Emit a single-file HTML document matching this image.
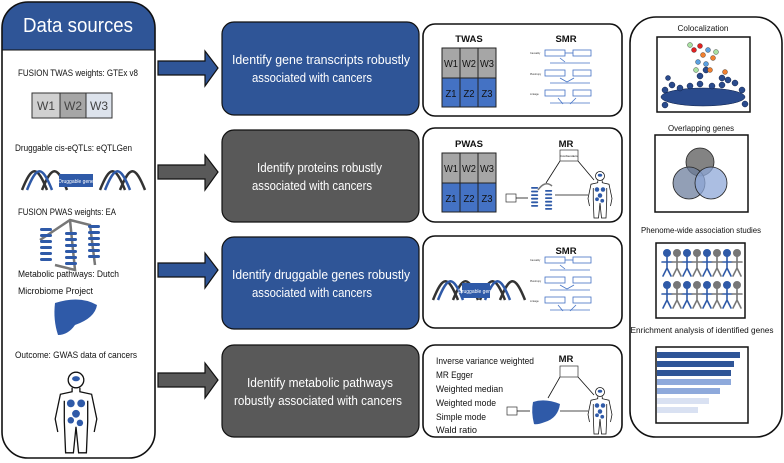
<!DOCTYPE html>
<html><head><meta charset="utf-8"><style>
html,body{margin:0;padding:0;background:#fff;}
svg{display:block;font-family:"Liberation Sans",sans-serif;}
</style></head><body>
<svg width="784" height="463" viewBox="0 0 784 463" xmlns="http://www.w3.org/2000/svg">
<defs>
  <g id="smr">
    <g font-size="2.5" fill="#333">
      <text x="0" y="4">Causality</text><text x="0" y="25">Pleiotropy</text><text x="0" y="45">Linkage</text>
    </g>
    <g fill="none" stroke="#4472c4" stroke-width="0.8">
      <rect x="15" y="0" width="20" height="6"/><rect x="43" y="0" width="18" height="6"/>
      <line x1="35" y1="3" x2="43" y2="3"/>
      <line x1="20" y1="13" x2="60" y2="13"/><line x1="30" y1="8" x2="35" y2="12"/>
      <rect x="15" y="20" width="20" height="6"/><rect x="43" y="20" width="18" height="6"/>
      <line x1="20" y1="33" x2="60" y2="33"/><line x1="30" y1="28" x2="37" y2="32"/><line x1="44" y1="28" x2="37" y2="32"/>
      <rect x="15" y="40" width="20" height="6"/><rect x="43" y="40" width="18" height="6"/>
      <line x1="20" y1="53" x2="60" y2="53"/><line x1="28" y1="48" x2="33" y2="54"/><line x1="46" y1="48" x2="40" y2="54"/>
    </g>
  </g>
  <g id="grid">
    <rect x="0" y="0" width="54" height="30" fill="#a6a6a6" stroke="#222" stroke-width="1"/>
    <rect x="0" y="30" width="54" height="29" fill="#4472c4" stroke="#222" stroke-width="1"/>
    <line x1="18" y1="0" x2="18" y2="59" stroke="#222"/><line x1="36" y1="0" x2="36" y2="59" stroke="#222"/>
    <g font-size="10" fill="#111" text-anchor="middle">
      <text x="9" y="19" textLength="14" lengthAdjust="spacingAndGlyphs">W1</text><text x="27" y="19" textLength="14" lengthAdjust="spacingAndGlyphs">W2</text><text x="45" y="19" textLength="14" lengthAdjust="spacingAndGlyphs">W3</text>
      <text x="9" y="49" textLength="11" lengthAdjust="spacingAndGlyphs">Z1</text><text x="27" y="49" textLength="11" lengthAdjust="spacingAndGlyphs">Z2</text><text x="45" y="49" textLength="11" lengthAdjust="spacingAndGlyphs">Z3</text>
    </g>
  </g>
  <g id="human" fill="none" stroke="#111" stroke-width="1">
    <circle cx="0" cy="0" r="6"/>
    <path d="M-3,6 L-3,9 L-12,11 L-16,30 L-14,40 M3,6 L3,9 L12,11 L16,30 L14,40 M-9,16 L-9,32 L-8,56 L-2,56 L0,36 L2,56 L8,56 L9,32 L9,16"/>
    <g fill="#2f5aa8" stroke="none"><ellipse cx="0" cy="-1" rx="3" ry="2"/><circle cx="-4" cy="18" r="3"/><circle cx="4" cy="18" r="3"/><circle cx="0" cy="26" r="3"/><circle cx="-4" cy="31" r="2.5"/><circle cx="3" cy="33" r="2.5"/></g>
  </g>
  <g id="dna">
    <path d="M0,20 C10,-5 15,-5 25,20 M20,20 C30,-5 35,-5 45,20" stroke="#333" stroke-width="2.5" fill="none"/>
    <path d="M5,20 C15,-5 20,-5 30,20" stroke="#2f5aa8" stroke-width="2.5" fill="none"/>
  </g>
  <g id="coil" fill="#2f5aa8"><rect x="0" y="0" width="12" height="3" rx="1.5"/><rect x="0" y="6" width="12" height="3" rx="1.5"/><rect x="0" y="12" width="12" height="3" rx="1.5"/><rect x="0" y="18" width="12" height="3" rx="1.5"/><rect x="0" y="24" width="12" height="3" rx="1.5"/><rect x="0" y="30" width="12" height="3" rx="1.5"/></g>
  <g id="person"><circle cx="0" cy="-6" r="3.5"/><path d="M0,-2 V9 M-5,3 H5 M0,9 L-4,17 M0,9 L4,17" fill="none" stroke-width="1.6"/></g>
</defs>

<!-- Left panel -->
<path d="M2,50 V30 Q2,2 30,2 H127 Q155,2 155,30 V50 Z" fill="#2f5597"/>
<rect x="2" y="2" width="153" height="456" rx="26" fill="none" stroke="#111" stroke-width="1.6"/>
<line x1="2" y1="50" x2="155" y2="50" stroke="#111" stroke-width="1"/>
<text x="78" y="32" font-size="20" fill="#fff" text-anchor="middle" textLength="110" lengthAdjust="spacingAndGlyphs">Data sources</text>
<g font-size="9" fill="#111">
  <text x="18" y="76" textLength="120" lengthAdjust="spacingAndGlyphs">FUSION TWAS weights: GTEx v8</text>
  <text x="15" y="151" textLength="117" lengthAdjust="spacingAndGlyphs">Druggable cis-eQTLs: eQTLGen</text>
  <text x="18" y="215" textLength="98" lengthAdjust="spacingAndGlyphs">FUSION PWAS weights: EA</text>
  <text x="18" y="277" textLength="101" lengthAdjust="spacingAndGlyphs">Metabolic pathways: Dutch</text>
  <text x="18" y="294" textLength="75" lengthAdjust="spacingAndGlyphs">Microbiome Project</text>
  <text x="15" y="358" textLength="122" lengthAdjust="spacingAndGlyphs">Outcome: GWAS data of cancers</text>
</g>
<rect x="32" y="93" width="28" height="25" fill="#d0d0d0" stroke="#333"/>
<rect x="60" y="93" width="26" height="25" fill="#a6a6a6" stroke="#333"/>
<rect x="86" y="93" width="26" height="25" fill="#dde3ec" stroke="#333"/>
<g font-size="12" fill="#444" text-anchor="middle"><text x="46" y="110">W1</text><text x="73" y="110">W2</text><text x="99" y="110">W3</text></g>
<use href="#dna" x="22" y="170"/>
<use href="#dna" x="100" y="170"/>
<rect x="59" y="174" width="34" height="13" fill="#2f5aa8"/>
<text x="76" y="183" font-size="5" fill="#fff" text-anchor="middle">Druggable gene</text>
<path d="M40,240 L70,220 L90,225 L95,265 M70,220 L75,270 L55,265" fill="none" stroke="#777" stroke-width="2.5"/>
<use href="#coil" x="40" y="228"/><use href="#coil" x="65" y="232"/><use href="#coil" x="88" y="225"/>
<path d="M55,303 Q80,295 97,305 Q95,318 75,325 Q68,335 58,335 Q53,320 55,303 Z" fill="#2f5aa8"/>
<g transform="translate(76,380) scale(1.3)"><use href="#human"/></g>

<!-- Arrows -->
<g stroke="#111" stroke-width="1.2">
  <path d="M158,61 H205 V51 L218,68 L205,86 V75 H158 Z" fill="#2f5597"/>
  <path d="M158,165 H205 V155 L218,172 L205,190 V179 H158 Z" fill="#595959"/>
  <path d="M158,263 H205 V253 L218,270 L205,288 V277 H158 Z" fill="#2f5597"/>
  <path d="M158,373 H205 V363 L218,380 L205,398 V387 H158 Z" fill="#595959"/>
</g>

<!-- Middle boxes -->
<g stroke="#111" stroke-width="1.2">
  <rect x="222" y="22" width="197" height="93" rx="12" fill="#2f5597"/>
  <rect x="222" y="130" width="197" height="92" rx="12" fill="#595959"/>
  <rect x="222" y="237" width="197" height="92" rx="12" fill="#2f5597"/>
  <rect x="222" y="345" width="197" height="92" rx="12" fill="#595959"/>
</g>
<g font-size="12.5" fill="#fff">
  <text x="232" y="64" textLength="178" lengthAdjust="spacingAndGlyphs">Identify gene transcripts robustly</text><text x="252" y="82" textLength="120" lengthAdjust="spacingAndGlyphs">associated with cancers</text>
  <text x="257" y="172" textLength="125" lengthAdjust="spacingAndGlyphs">Identify proteins robustly</text><text x="252" y="190" textLength="120" lengthAdjust="spacingAndGlyphs">associated with cancers</text>
  <text x="232" y="279" textLength="178" lengthAdjust="spacingAndGlyphs">Identify druggable genes robustly</text><text x="252" y="297" textLength="120" lengthAdjust="spacingAndGlyphs">associated with cancers</text>
  <text x="247" y="387" textLength="146" lengthAdjust="spacingAndGlyphs">Identify metabolic pathways</text><text x="234" y="405" textLength="168" lengthAdjust="spacingAndGlyphs">robustly associated with cancers</text>
</g>

<!-- Diagram boxes -->
<g fill="#fff" stroke="#111" stroke-width="1.6">
  <rect x="423" y="24" width="199" height="92" rx="12"/>
  <rect x="423" y="128" width="199" height="94" rx="12"/>
  <rect x="423" y="236" width="199" height="92" rx="12"/>
  <rect x="423" y="345" width="199" height="92" rx="12"/>
</g>
<g font-size="9.5" fill="#111" text-anchor="middle" font-weight="bold">
  <text x="469" y="42">TWAS</text><text x="566" y="42">SMR</text>
  <text x="469" y="147">PWAS</text><text x="566" y="147">MR</text>
  <text x="566" y="254">SMR</text>
  <text x="566" y="362">MR</text>
</g>
<use href="#grid" x="442" y="48"/>
<use href="#smr" x="530" y="50"/>
<use href="#grid" x="442" y="153"/>
<use href="#smr" x="530" y="257"/>
<use href="#dna" x="433" y="280"/><use href="#dna" x="480" y="280"/>
<rect x="462" y="283" width="28" height="15" fill="#2f5aa8"/>
<text x="476" y="293" font-size="5" fill="#fff" text-anchor="middle">Druggable gene</text>
<!-- PWAS MR -->
<rect x="506" y="194" width="10" height="8" fill="#fff" stroke="#333" stroke-width="0.7"/>
<rect x="560" y="150" width="18" height="11" fill="#fff" stroke="#333" stroke-width="0.7"/>
<text x="569" y="157" font-size="3" text-anchor="middle">Confounders</text>
<g stroke="#111" stroke-width="0.8" fill="none"><line x1="516" y1="198" x2="528" y2="198"/><line x1="546" y1="183" x2="560" y2="161"/><line x1="578" y1="161" x2="594" y2="180"/><line x1="555" y1="195" x2="588" y2="195"/></g>
<g transform="translate(531,187) scale(0.6)"><use href="#coil"/></g>
<g transform="translate(545,190) scale(0.6)"><use href="#coil"/></g>
<path d="M538,190 Q545,180 552,186" fill="none" stroke="#777" stroke-width="1.5"/>
<g transform="translate(600,176) scale(0.75)"><use href="#human"/></g>
<!-- Metabolic MR -->
<g font-size="9.3" fill="#111">
  <text x="436" y="364" textLength="98" lengthAdjust="spacingAndGlyphs">Inverse variance weighted</text>
  <text x="436" y="378" textLength="37" lengthAdjust="spacingAndGlyphs">MR Egger</text>
  <text x="436" y="392" textLength="67" lengthAdjust="spacingAndGlyphs">Weighted median</text>
  <text x="436" y="406" textLength="60" lengthAdjust="spacingAndGlyphs">Weighted mode</text>
  <text x="436" y="420" textLength="50" lengthAdjust="spacingAndGlyphs">Simple mode</text>
  <text x="436" y="433" textLength="41" lengthAdjust="spacingAndGlyphs">Wald ratio</text>
</g>
<rect x="507" y="407" width="10" height="8" fill="#fff" stroke="#333" stroke-width="0.7"/>
<rect x="560" y="366" width="18" height="11" fill="#fff" stroke="#333" stroke-width="0.7"/>
<g stroke="#111" stroke-width="0.8" fill="none"><line x1="517" y1="411" x2="530" y2="411"/><line x1="548" y1="398" x2="560" y2="377"/><line x1="578" y1="377" x2="594" y2="395"/><line x1="560" y1="411" x2="588" y2="411"/></g>
<path d="M533,402 Q545,398 560,404 Q558,418 545,422 Q537,425 534,424 Q531,412 533,402 Z" fill="#2f5aa8"/>
<g transform="translate(600,392) scale(0.75)"><use href="#human"/></g>

<!-- Right panel -->
<rect x="630" y="17" width="152" height="420" rx="26" fill="#fff" stroke="#111" stroke-width="1.6"/>
<g font-size="8" fill="#111" text-anchor="middle">
  <text x="703" y="31" textLength="51" lengthAdjust="spacingAndGlyphs">Colocalization</text>
  <text x="701" y="131" textLength="66" lengthAdjust="spacingAndGlyphs">Overlapping genes</text>
  <text x="701" y="233" textLength="120" lengthAdjust="spacingAndGlyphs">Phenome-wide association studies</text>
  <text x="702" y="333" textLength="143" lengthAdjust="spacingAndGlyphs">Enrichment analysis of identified genes</text>
</g>
<rect x="657" y="37" width="93" height="75" fill="#fff" stroke="#111" stroke-width="1.5"/>
<g fill="#2a4b8d" stroke="#0d1f45" stroke-width="0.5">
  <ellipse cx="703" cy="97" rx="42" ry="9"/>
  <circle cx="665" cy="90" r="3"/><circle cx="672" cy="85" r="3"/><circle cx="680" cy="88" r="3"/><circle cx="690" cy="86" r="3"/><circle cx="700" cy="84" r="3"/><circle cx="712" cy="86" r="3"/><circle cx="722" cy="85" r="3"/><circle cx="735" cy="83" r="3"/><circle cx="742" cy="90" r="3"/><circle cx="668" cy="78" r="2.5"/><circle cx="700" cy="76" r="3"/><circle cx="706" cy="70" r="3"/><circle cx="722" cy="78" r="3"/><circle cx="728" cy="80" r="3"/><circle cx="745" cy="104" r="3"/><circle cx="665" cy="105" r="3"/>
</g>
<g stroke="#333" stroke-width="0.4">
  <circle cx="694" cy="50" r="2.5" fill="#e02020"/><circle cx="700" cy="46" r="2.5" fill="#e02020"/><circle cx="703" cy="55" r="2.5" fill="#f08030"/><circle cx="708" cy="50" r="2.5" fill="#5aa0e0"/><circle cx="713" cy="58" r="2.5" fill="#f08030"/><circle cx="690" cy="45" r="2.5" fill="#a8e0a0"/><circle cx="716" cy="52" r="2.5" fill="#a8e0a0"/><circle cx="698" cy="62" r="2.5" fill="#5aa0e0"/><circle cx="706" cy="64" r="2.5" fill="#5aa0e0"/><circle cx="710" cy="70" r="2.5" fill="#f08030"/><circle cx="696" cy="70" r="2.5" fill="#a8e0a0"/><circle cx="725" cy="72" r="2.5" fill="#f08030"/>
</g>
<rect x="655" y="135" width="93" height="77" fill="#fff" stroke="#111" stroke-width="1.5"/>
<g stroke="#222" stroke-width="0.8" fill-opacity="0.75">
  <circle cx="700" cy="162" r="14" fill="#595959"/>
  <circle cx="689" cy="183" r="16" fill="#6e7f9e"/>
  <circle cx="711" cy="183" r="16" fill="#8fa8d8"/>
</g>
<rect x="656" y="243" width="89" height="75" fill="#fff" stroke="#111" stroke-width="1.5"/>
<g stroke-linecap="round">
  <g fill="#2f5aa8" stroke="#2f5aa8"><use href="#person" x="667" y="259"/><use href="#person" x="687" y="259"/><use href="#person" x="707" y="259"/><use href="#person" x="727" y="259"/><use href="#person" x="667" y="291"/><use href="#person" x="687" y="291"/><use href="#person" x="707" y="291"/><use href="#person" x="727" y="291"/></g>
  <g fill="#777" stroke="#777"><use href="#person" x="677" y="259"/><use href="#person" x="697" y="259"/><use href="#person" x="717" y="259"/><use href="#person" x="737" y="259"/><use href="#person" x="677" y="291"/><use href="#person" x="697" y="291"/><use href="#person" x="717" y="291"/><use href="#person" x="737" y="291"/></g>
</g>
<rect x="656" y="347" width="92" height="76" fill="#fff" stroke="#111" stroke-width="1.5"/>
<rect x="657" y="352" width="83" height="6" fill="#2f5597"/>
<rect x="657" y="361" width="77" height="6" fill="#2f5597"/>
<rect x="657" y="370" width="74" height="6" fill="#2f5597"/>
<rect x="657" y="379" width="74" height="6" fill="#8ea9db"/>
<rect x="657" y="388" width="63" height="6" fill="#8ea9db"/>
<rect x="657" y="398" width="52" height="6" fill="#d9e1f2"/>
<rect x="657" y="407" width="41" height="6" fill="#d9e1f2"/>
</svg>
</body></html>
